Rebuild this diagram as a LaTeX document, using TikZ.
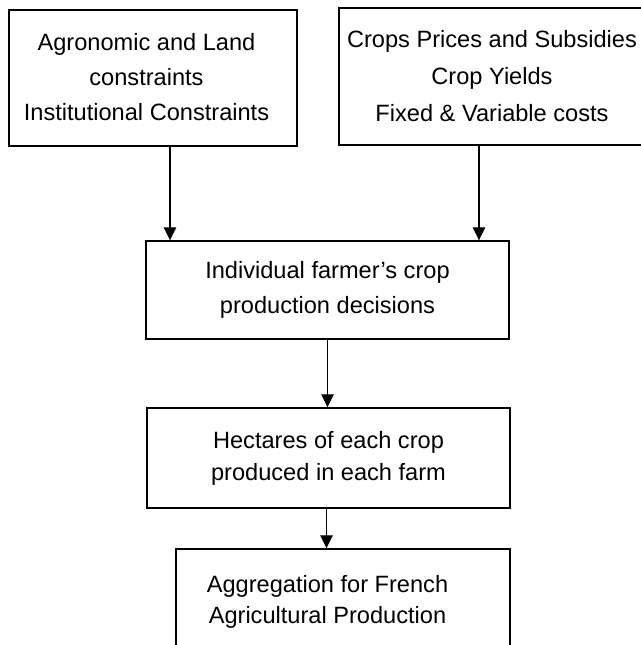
\documentclass[tikz,border=0pt]{standalone}
\usepackage{fontspec}
\setmainfont{Liberation Sans}
\usepackage{tikz}
\usetikzlibrary{arrows.meta,calc}

\begin{document}
\begin{tikzpicture}[
    x=0.5pt, y=-0.5pt,
    box/.style={draw, line width=0.7pt, minimum width=#1, inner sep=0pt, align=center, font=\fontsize{11.8}{17.5}\selectfont},
    frame/.style={draw, line width=0.7pt, inner sep=0pt},
    txt/.style={align=center, inner sep=0pt, font=\fontsize{11.8}{#1}\selectfont},
    arr/.style={-{Triangle[length=6.5pt, width=6.2pt]}, line width=0.6pt}
]
\useasboundingbox (0,0) rectangle (641,645);
\clip (0,0) rectangle (641,645);

% inputs
\node[frame, minimum width=144pt, minimum height=68pt] (agro) at (153,78) {};
\node[txt=17.5pt] (agrotext) at (146.5,77) {Agronomic and Land\\constraints\\Institutional Constraints};
\node[box=153pt, minimum height=68.5pt, font=\fontsize{11.8}{18.5}\selectfont] (prices) at (492,76.5) {Crops Prices and Subsidies\\Crop Yields\\Fixed \& Variable costs};

% model chain
\node[box=181.5pt, minimum height=49pt] (decide) at (327.5,290) {Individual farmer’s crop\\production decisions};
\node[box=181.5pt, minimum height=50pt, font=\fontsize{11.8}{16}\selectfont] (hect) at (328.5,458) {Hectares of each crop\\produced in each farm};
\node[frame, minimum width=167pt, minimum height=55.5pt] (aggr) at (343,604.5) {};
\node[txt=15.5pt] (aggrtext) at (327.5,601.5) {Aggregation for French\\Agricultural Production};

\draw[arr] ([xshift=8.5pt]agro.south) -- ([xshift=8.5pt]agro.south |- decide.north);
\draw[arr] ([xshift=-6.5pt]prices.south) -- ([xshift=-6.5pt]prices.south |- decide.north);
\draw[arr] (decide.south) -- (decide.south |- hect.north);
\draw[arr] ([xshift=-1pt]hect.south) -- ([xshift=-1pt]hect.south |- aggr.north);
\end{tikzpicture}
\end{document}
